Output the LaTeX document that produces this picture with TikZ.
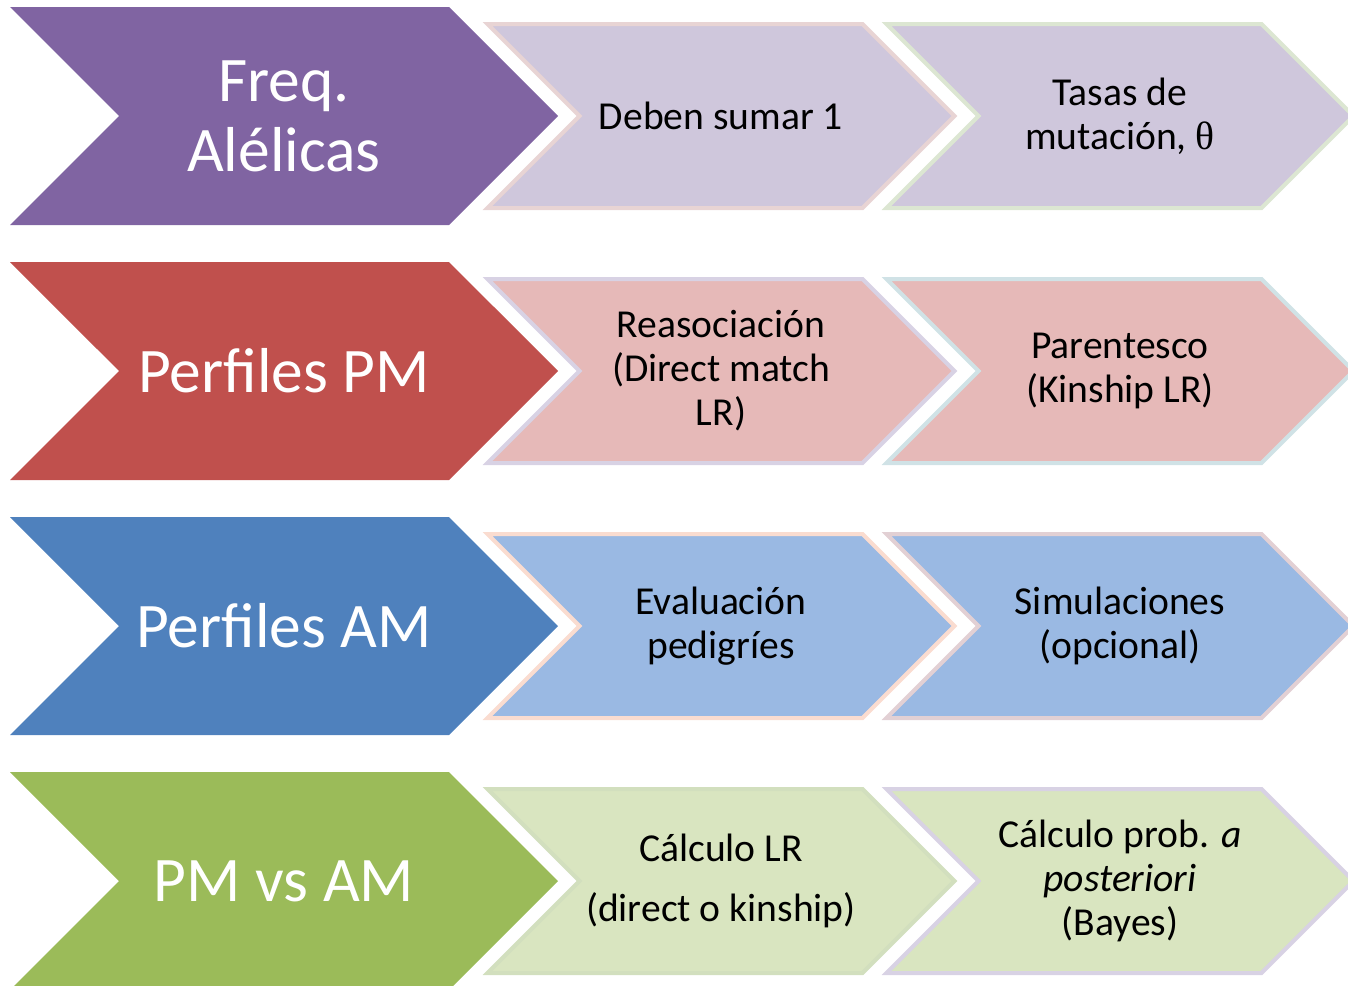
\documentclass[tikz,border=0pt]{standalone}
\usepackage{fontspec}
\setmainfont{Carlito}
\newfontfamily\thetafont{Liberation Serif}
\usetikzlibrary{shapes.symbols}
\definecolor{purpdark}{HTML}{8064A2}
\definecolor{purplight}{HTML}{CFC7DC}
\definecolor{reddark}{HTML}{C0504D}
\definecolor{redlight}{HTML}{E6B9B8}
\definecolor{bluedark}{HTML}{4F81BD}
\definecolor{bluelight}{HTML}{9AB9E3}
\definecolor{greendark}{HTML}{9BBB59}
\definecolor{greenlight}{HTML}{D9E5C0}
\definecolor{rimpink}{HTML}{E8D4D4}
\definecolor{rimgreen}{HTML}{DCE6D2}
\definecolor{rimlav}{HTML}{D8D2E4}
\definecolor{rimcyan}{HTML}{D0E2E6}
\definecolor{rimpeach}{HTML}{FADCD0}
\definecolor{rimmauve}{HTML}{E2D0D4}
\definecolor{rimolive}{HTML}{D2DFBE}

\begin{document}
\begin{tikzpicture}[x=1pt, y=-1pt,
  bigchev/.style={signal, signal from=west, signal to=east, minimum width=548pt, minimum height=218pt, inner sep=0pt, text=white, align=center, font=\fontsize{63.5}{70}\selectfont},
  smallchev/.style={signal, signal from=west, signal to=east, minimum width=467pt, minimum height=184pt, inner sep=0pt, line width=4pt, align=center, font=\fontsize{39.6}{44}\selectfont}
]
  \useasboundingbox (0,0) rectangle (1348,985);
  % fila 1
  \node[bigchev, fill=purpdark] (freq) at (284, 116) {Freq.\\Alélicas};
  \node[smallchev, fill=purplight, draw=rimpink] (debe) at (721, 116) {Deben sumar 1};
  \node[smallchev, fill=purplight, draw=rimgreen] (tasas) at (1120, 116) {Tasas de\\mutación, {\thetafont θ}};
  % fila 2
  \node[bigchev, fill=reddark] (pm) at (284, 371) {Perfiles PM};
  \node[smallchev, fill=redlight, draw=rimlav] (reasoc) at (721, 371) {Reasociación\\(Direct match\\LR)};
  \node[smallchev, fill=redlight, draw=rimcyan] (parent) at (1120, 371) {Parentesco\\(Kinship LR)};
  % fila 3
  \node[bigchev, fill=bluedark] (am) at (284, 626) {Perfiles AM};
  \node[smallchev, fill=bluelight, draw=rimpeach] (evalua) at (721, 626) {Evaluación\\pedigríes};
  \node[smallchev, fill=bluelight, draw=rimmauve] (simula) at (1120, 626) {Simulaciones\\(opcional)};
  % fila 4
  \node[bigchev, fill=greendark] (pmam) at (284, 881) {PM vs AM};
  \node[smallchev, fill=greenlight, draw=rimolive] (calclr) at (721, 881) {Cálculo LR\\[16pt](direct o kinship)};
  \node[smallchev, fill=greenlight, draw=rimlav] (calcpost) at (1120, 881) {Cálculo prob. \textit{a}\\\textit{posteriori}\\(Bayes)};
\end{tikzpicture}
\end{document}
